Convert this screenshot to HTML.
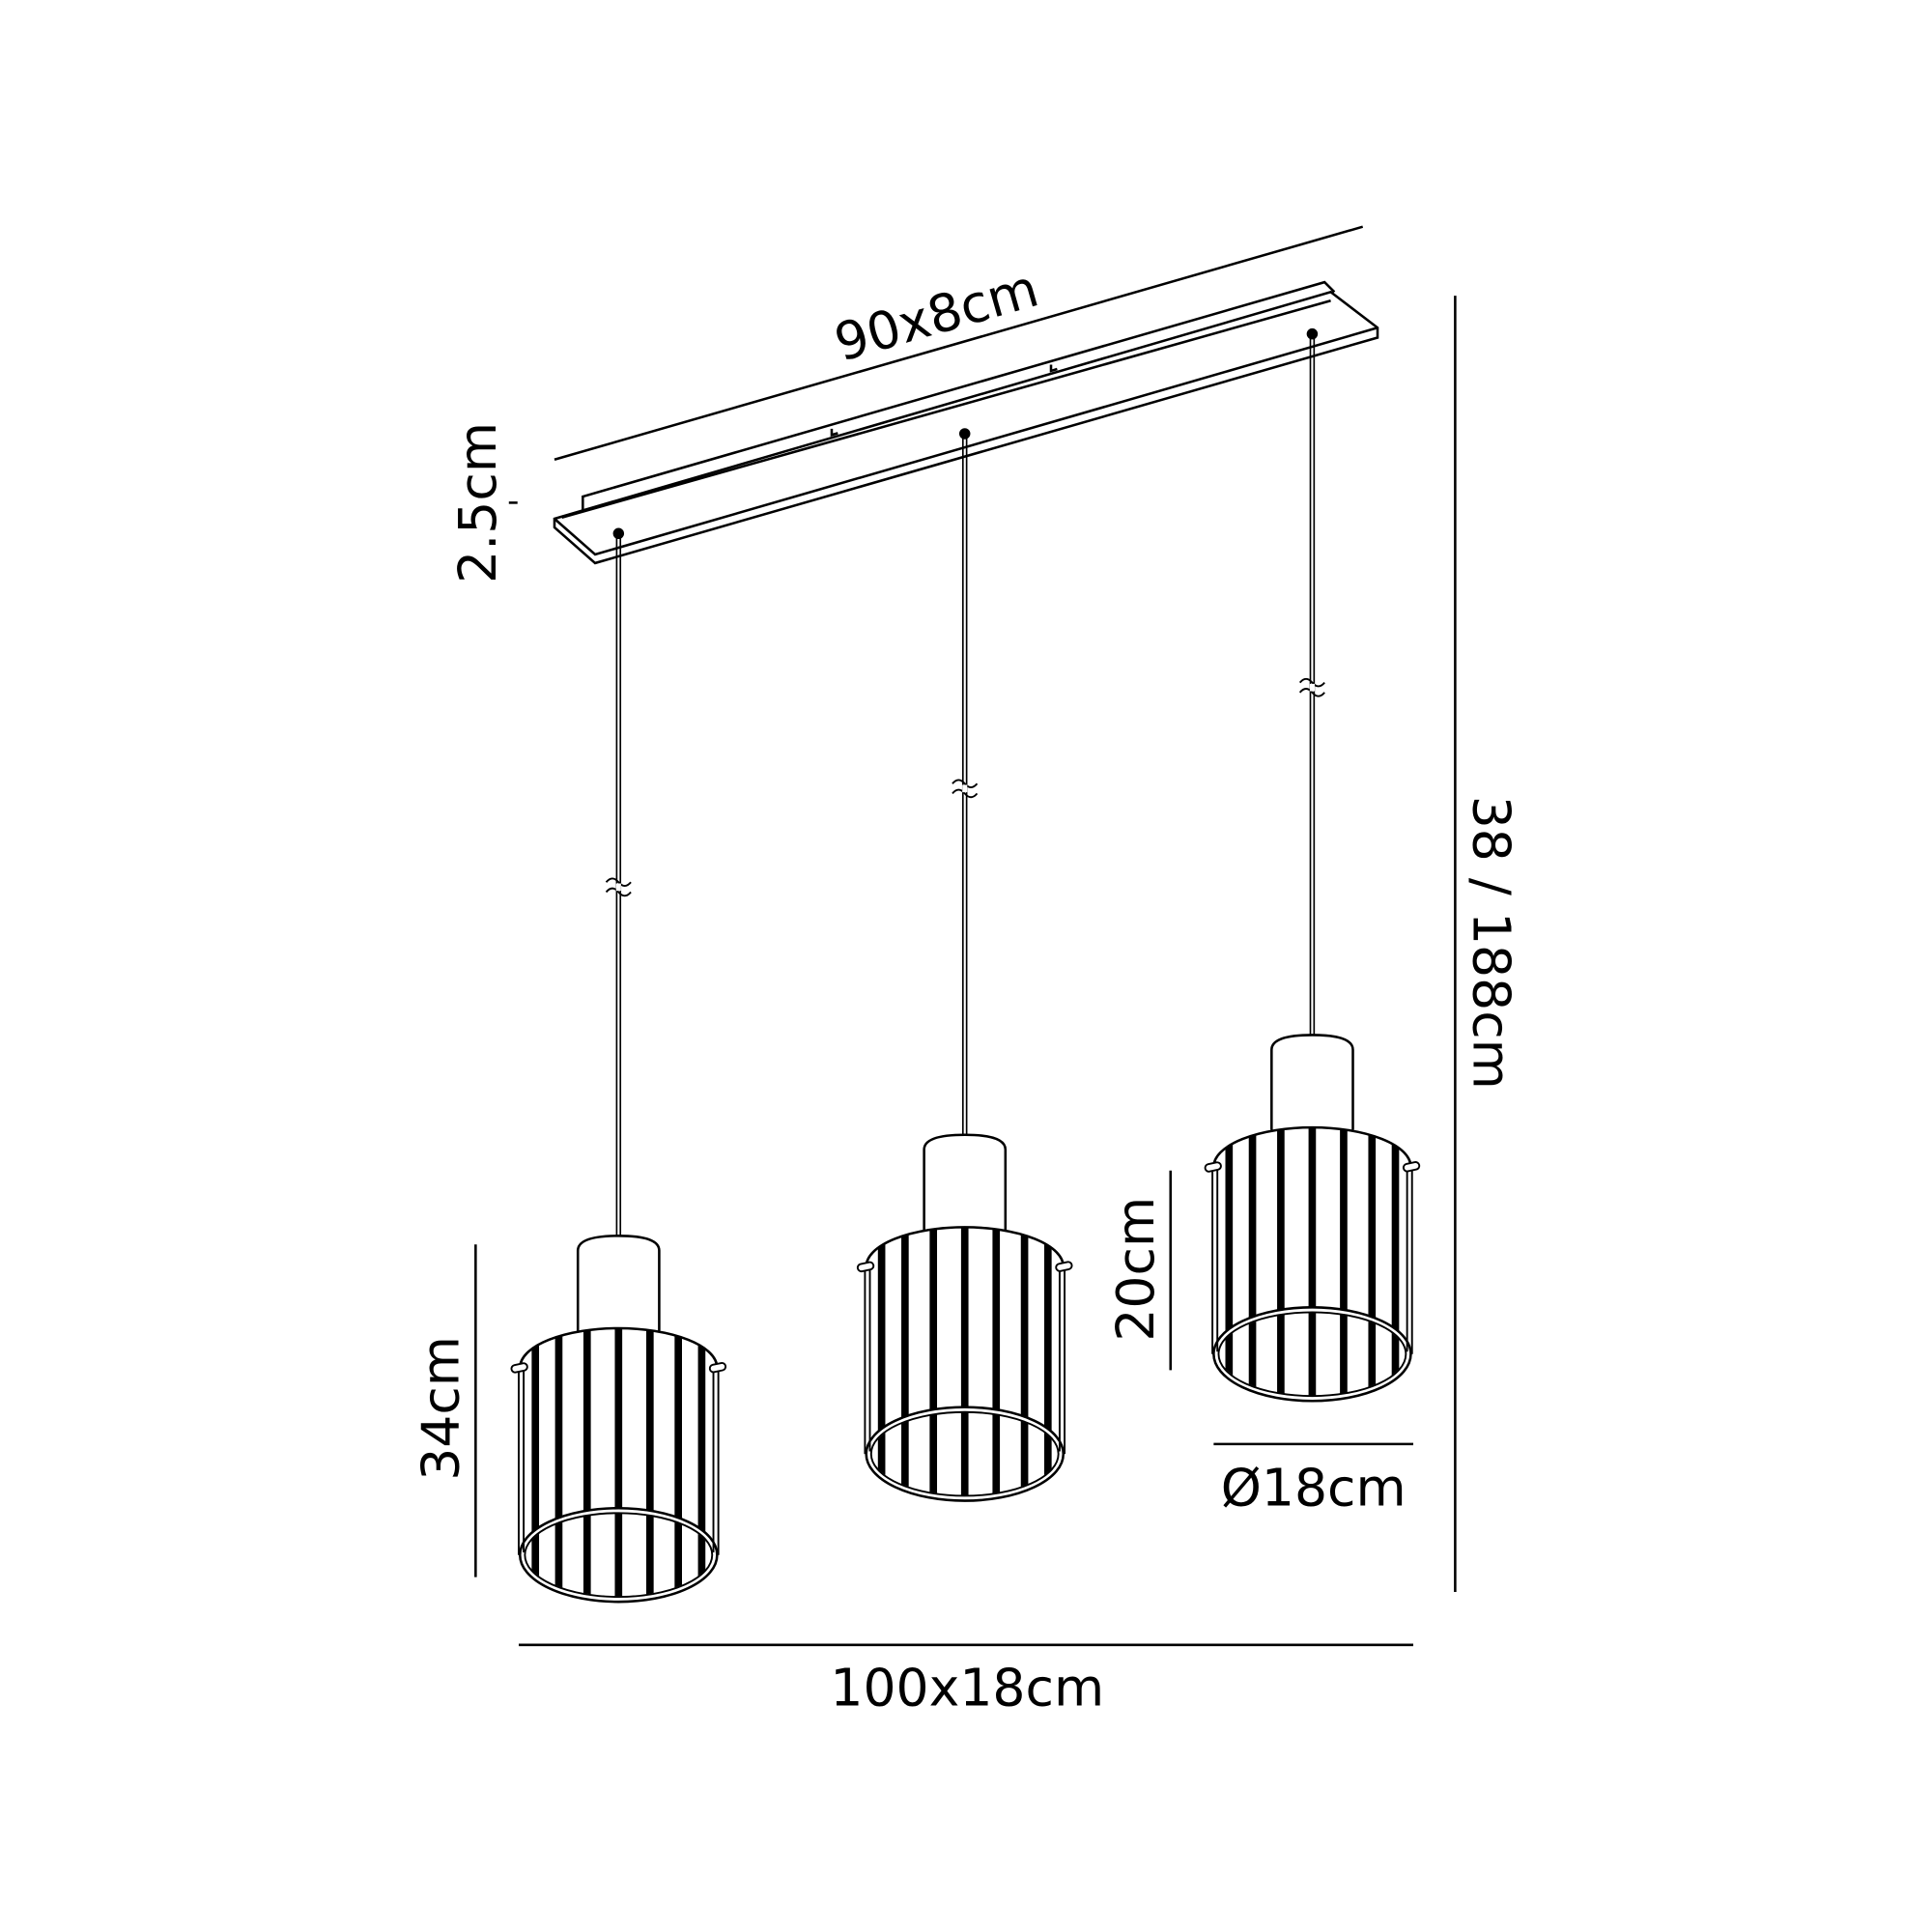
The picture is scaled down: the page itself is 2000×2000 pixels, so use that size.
<!DOCTYPE html>
<html><head><meta charset="utf-8"><style>html,body{margin:0;padding:0;background:#fff}svg{display:block}</style></head>
<body>
<svg width="2000" height="2000" viewBox="0 0 1568 1568" xmlns="http://www.w3.org/2000/svg">
<defs>
<clipPath id="cg"><path d="M-80,0 A80,32 0 0 1 80,0 L80,152 A80,38 0 0 1 -80,152 Z"/></clipPath>
<g id="shade">
  <path d="M-33,-30 L-33,-95 Q-33,-107 0,-107 Q33,-107 33,-95 L33,-30" fill="#fff" stroke="#000" stroke-width="2"/>
  <g clip-path="url(#cg)" fill="#000">
    <rect x="-70.5" y="-40" width="6" height="240"/>
    <rect x="-51.5" y="-40" width="6" height="240"/>
    <rect x="-28.5" y="-40" width="6" height="240"/>
    <rect x="-3" y="-40" width="6" height="240"/>
    <rect x="22.5" y="-40" width="6" height="240"/>
    <rect x="45.5" y="-40" width="6" height="240"/>
    <rect x="64.5" y="-40" width="6" height="240"/>
  </g>
  <path d="M-80,0 A80,32 0 0 1 80,0" fill="none" stroke="#000" stroke-width="2"/>
  <ellipse cx="0" cy="152" rx="78" ry="36" fill="none" stroke="#fff" stroke-width="5"/>
  <ellipse cx="0" cy="152" rx="80" ry="38" fill="none" stroke="#000" stroke-width="2"/>
  <ellipse cx="0" cy="152" rx="76" ry="34" fill="none" stroke="#000" stroke-width="1.5"/>
  <g stroke="#000" stroke-width="1.5">
    <line x1="-81" y1="0" x2="-81" y2="152"/><line x1="-77" y1="2" x2="-77" y2="150"/>
    <line x1="81" y1="0" x2="81" y2="152"/><line x1="77" y1="2" x2="77" y2="150"/>
  </g>
  <rect x="-87" y="-3" width="13" height="6" rx="3" fill="#fff" stroke="#000" stroke-width="1.5" transform="rotate(-12 -80 0)"/>
  <rect x="74" y="-3" width="13" height="6" rx="3" fill="#fff" stroke="#000" stroke-width="1.5" transform="rotate(-12 80 0)"/>
</g>
<g id="brk"><path d="M-10,-4 q5,-6 10,0 t10,0 M-10,4 q5,-6 10,0 t10,0" fill="none" stroke="#000" stroke-width="1.5"/><rect x="-2" y="-3" width="4" height="6" fill="#fff"/></g>
</defs>
<g fill="none" stroke="#000" stroke-width="2">
  <line x1="450" y1="373" x2="1106" y2="184"/>
  <path d="M473,415 L473,403 L1075,229 L1083,237"/>
  <path d="M450,421 L1080,237 L1118,266 L1118,274 L483,457 L450,428 Z" fill="#fff"/>
  <path d="M450,421 L483,450 L1118,266"/>
  <path d="M456,420 L1080,244"/>
  <path d="M675,348 l0,5 l5,-1.5 M853,296 l0,5 l5,-1.5"/>
  <line x1="1181" y1="240" x2="1181" y2="1292"/>
  <line x1="421" y1="1335" x2="1147" y2="1335"/>
  <line x1="386" y1="1010" x2="386" y2="1280"/>
  <line x1="950" y1="950" x2="950" y2="1112"/>
  <line x1="985" y1="1172" x2="1147" y2="1172"/>
  <line x1="413" y1="408" x2="420" y2="408"/>
</g>
<g stroke="#000" stroke-width="1.3">
  <line x1="500.5" y1="432" x2="500.5" y2="1003"/><line x1="503.5" y1="432" x2="503.5" y2="1003"/>
  <line x1="781.5" y1="351" x2="781.5" y2="922"/><line x1="784.5" y1="351" x2="784.5" y2="922"/>
  <line x1="1063.5" y1="270" x2="1063.5" y2="842"/><line x1="1066.5" y1="270" x2="1066.5" y2="842"/>
</g>
<circle cx="502" cy="433" r="4.5" fill="#000"/><circle cx="783" cy="352" r="4.5" fill="#000"/><circle cx="1065" cy="271" r="4.5" fill="#000"/>
<use href="#brk" x="502" y="720"/><use href="#brk" x="783" y="640"/><use href="#brk" x="1065" y="558"/>
<use href="#shade" x="502" y="1110"/>
<use href="#shade" x="783" y="1028"/>
<use href="#shade" x="1065" y="947"/>
<g font-family="'DejaVu Sans','Liberation Sans',sans-serif" font-size="42" fill="#000" text-anchor="middle">
  <text transform="translate(764,270) rotate(-16)">90x8cm</text>
  <text transform="translate(402,408) rotate(-90)">2.5cm</text>
  <text transform="translate(1196,765) rotate(90)">38 / 188cm</text>
  <text x="785" y="1384">100x18cm</text>
  <text transform="translate(372,1143) rotate(-90)">34cm</text>
  <text transform="translate(936,1030) rotate(-90)">20cm</text>
  <text x="1066" y="1222">Ø18cm</text>
</g>
</svg>
</body></html>
